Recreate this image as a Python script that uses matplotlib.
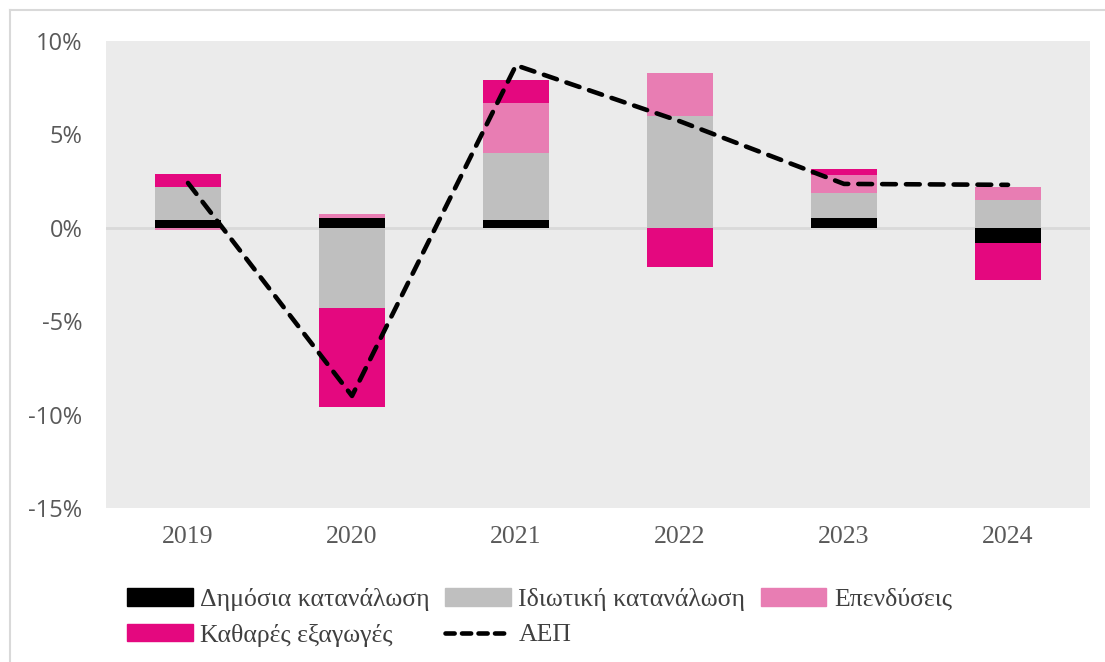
import numpy as np
import matplotlib.pyplot as plt
from matplotlib.patches import Patch
from matplotlib.lines import Line2D

# dane (% wkładu do wzrostu PKB)
years = ['2019', '2020', '2021', '2022', '2023', '2024']
dimosia = [0.4, 0.55, 0.4, 0.0, 0.55, -0.8]
idiotiki = [1.8, -4.3, 3.6, 6.0, 1.3, 1.5]
ependyseis = [-0.1, 0.2, 2.7, 2.3, 1.0, 0.7]
exagoges = [0.7, -5.3, 1.2, -2.1, 0.3, -2.0]
aep = [2.4, -9.0, 8.7, 5.7, 2.35, 2.3]

labels = ['Δημόσια κατανάλωση', 'Ιδιωτική κατανάλωση', 'Επενδύσεις', 'Καθαρές εξαγωγές']
colors = ['#000000', '#BFBFBF', '#E87DB3', '#E4087F']
series = [dimosia, idiotiki, ependyseis, exagoges]

serif = ['Liberation Serif', 'DejaVu Serif']
sans = ['Open Sans', 'DejaVu Sans']

fig = plt.figure(figsize=(11.05, 6.62), dpi=100)
ax = fig.add_axes([106/1105, 1-508/662, 984/1105, 467/662])
ax.set_facecolor('#EBEBEB')

x = np.arange(len(years))
pos = np.zeros(len(years))
neg = np.zeros(len(years))
for vals, col, lab in zip(series, colors, labels):
    v = np.array(vals)
    bottom = np.where(v >= 0, pos, neg)
    ax.bar(x, v, 0.4, bottom=bottom, color=col, label=lab, zorder=3)
    pos = pos + np.where(v >= 0, v, 0)
    neg = neg + np.where(v < 0, v, 0)

ax.axhline(0, color='#D9D9D9', lw=2, zorder=2)
ax.plot(x, aep, color='black', lw=3.3, ls=(0, (3, 2.2)), dash_capstyle='round', zorder=4)

ax.set_xlim(-0.5, 5.5)
ax.set_ylim(-15, 10)
ax.set_yticks([-15, -10, -5, 0, 5, 10])
ax.set_yticklabels([f'{t}%' for t in [-15, -10, -5, 0, 5, 10]], family=sans, fontsize=17, color='#595959')
ax.set_xticks(x)
ax.set_xticklabels(years, family=serif, fontsize=18.5, color='#595959')
ax.tick_params(axis='y', length=0, pad=17)
ax.tick_params(axis='x', length=0, pad=13)
for s in ax.spines.values():
    s.set_visible(False)

# ramka
fig.add_artist(Line2D([10/1105, 10/1105], [0, 1-10/662], color='#D9D9D9', lw=1.5))
fig.add_artist(Line2D([10/1105, 1], [1-10/662, 1-10/662], color='#D9D9D9', lw=1.5))

handles = [Patch(color=colors[0]), Patch(color=colors[3]), Patch(color=colors[1]),
           Line2D([], [], color='black', lw=3.3, ls=(0, (2, 1.6)), dash_capstyle='round'),
           Patch(color=colors[2])]
hl = [labels[0], labels[3], labels[1], 'ΑΕΠ', labels[2]]
fig.legend(handles, hl, ncol=3, loc='upper left', bbox_to_anchor=(127/1105, 1-588/662),
           frameon=False, borderpad=0, borderaxespad=0, handlelength=2.55, handleheight=0.65,
           handletextpad=0.3, columnspacing=0.6, labelspacing=0.5,
           prop={'family': serif, 'size': 18.5}, labelcolor='#404040')

fig.savefig('out.png', dpi=100)
